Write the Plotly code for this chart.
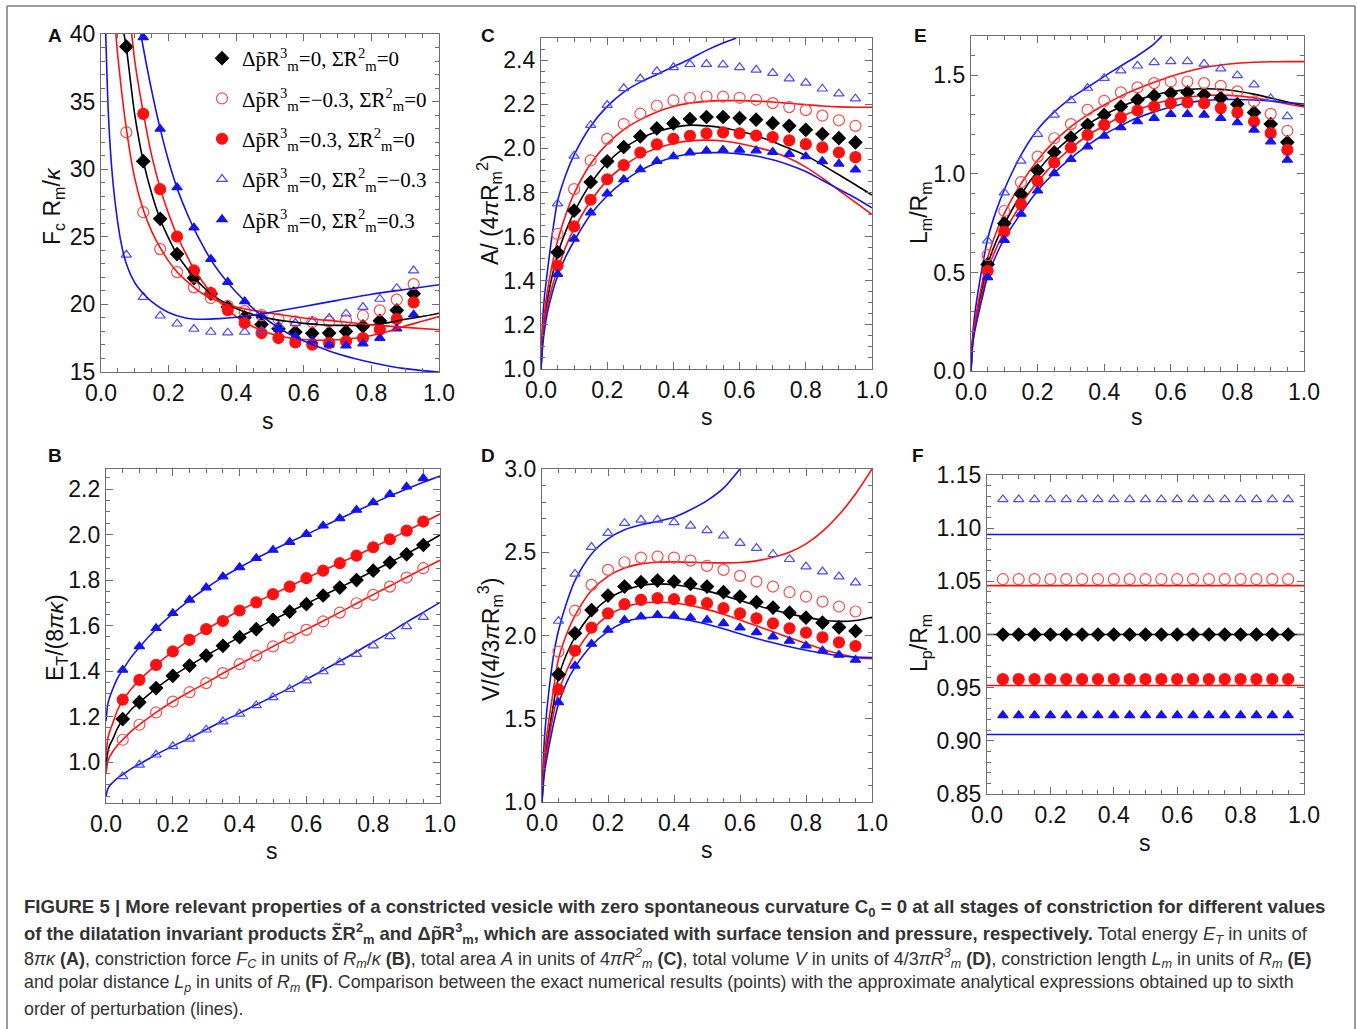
import plotly.graph_objects as go

W, H = 1357, 1029

# ---------------- data ----------------
S_PTS = [0.05, 0.10, 0.15, 0.20, 0.25, 0.30, 0.35, 0.40, 0.45, 0.50,
         0.55, 0.60, 0.65, 0.70, 0.75, 0.80, 0.85, 0.90, 0.95]
A_S_PTS = [0.075, 0.125, 0.175, 0.225, 0.275, 0.325, 0.375, 0.425, 0.475,
           0.525, 0.575, 0.625, 0.675, 0.725, 0.775, 0.825, 0.875, 0.925]
S_GRID = [0, 0.005, 0.01, 0.02, 0.035, 0.05, 0.075, 0.1, 0.15, 0.2, 0.25, 0.3,
          0.35, 0.4, 0.45, 0.5, 0.55, 0.6, 0.65, 0.7, 0.75, 0.8, 0.85, 0.9, 0.95, 1.0]

# Panel A : F_c R_m / kappa
A_BLACK_PTS = [39.06, 30.59, 26.33, 23.72, 21.95, 20.79, 19.8, 19.04, 18.52, 18.2,
               17.96, 17.86, 17.88, 18.0, 18.38, 18.79, 19.56, 20.79]
A_REDO_PTS = [32.73, 26.82, 24.09, 22.39, 21.26, 20.47, 19.9, 19.5, 19.2, 18.92,
              18.74, 18.7, 18.72, 18.82, 19.16, 19.56, 20.35, 21.5]
A_REDF_PTS = [None, 34.09, 28.52, 25.02, 22.51, 20.84, 19.58, 18.62, 17.88, 17.51,
              17.19, 17.02, 17.14, 17.27, 17.51, 18.13, 18.92, 20.15]
A_BLUEO_PTS = [23.67, 20.54, 19.16, 18.57, 18.18, 17.96, 17.91, 17.96, 18.05, 18.45,
               18.62, 18.75, 18.99, 19.31, 19.8, 20.4, 21.2, 22.5]
A_BLUEF_PTS = [None, 39.75, 32.98, 28.65, 25.67, 23.35, 21.65, 20.22, 19.16, 18.2,
               17.64, 17.32, 17.02, 16.95, 17.1, 17.51, 18.2, 19.24]

A_BLACK_LS = [0.068, 0.075, 0.1, 0.125, 0.15, 0.175, 0.2, 0.225, 0.25, 0.275, 0.3, 0.325,
              0.35, 0.4, 0.45, 0.5, 0.55, 0.6, 0.65, 0.7, 0.75, 0.8, 0.85, 0.9, 0.95, 1.0]
A_BLACK_LINE = [40, 39.0, 34.0, 30.6, 28.2, 26.3, 24.9, 23.7, 22.8, 22.0, 21.35, 20.8,
                20.35, 19.7, 19.25, 18.95, 18.75, 18.6, 18.5, 18.45, 18.45, 18.5, 18.65,
                18.9, 19.1, 19.35]
A_REDO_LS = [0.044, 0.05, 0.075, 0.1, 0.125, 0.15, 0.175, 0.2, 0.225, 0.25, 0.3, 0.35,
             0.4, 0.45, 0.5, 0.6, 0.7, 0.8, 0.9, 1.0]
A_REDO_LINE = [40, 38.3, 33.0, 29.3, 27.0, 25.4, 24.2, 23.2, 22.4, 21.8, 20.8, 20.2,
               19.8, 19.55, 19.35, 19.0, 18.75, 18.5, 18.3, 18.13]
A_REDF_LS = [0.091, 0.1, 0.125, 0.15, 0.175, 0.2, 0.225, 0.25, 0.275, 0.3, 0.325, 0.35,
             0.4, 0.45, 0.5, 0.55, 0.6, 0.65, 0.7, 0.75, 0.8, 0.85, 0.9, 0.95, 1.0]
A_REDF_LINE = [40, 38.0, 34.2, 31.0, 28.6, 26.7, 25.1, 23.8, 22.6, 21.7, 20.9, 20.2,
               19.1, 18.35, 17.85, 17.55, 17.4, 17.35, 17.38, 17.5, 17.7, 18.0, 18.4,
               18.75, 19.1]
A_BLUEO_LS = [0.014, 0.022, 0.032, 0.046, 0.06, 0.075, 0.1, 0.125, 0.15, 0.2, 0.25, 0.3,
              0.35, 0.4, 0.45, 0.5, 0.6, 0.7, 0.8, 0.9, 1.0]
A_BLUEO_LINE = [40, 34.0, 30.0, 26.7, 24.5, 23.0, 21.6, 20.8, 20.2, 19.4, 19.0, 18.9,
                18.95, 19.05, 19.2, 19.4, 19.85, 20.3, 20.75, 21.1, 21.45]
A_BLUEF_LS = [0.118, 0.125, 0.15, 0.175, 0.2, 0.225, 0.25, 0.275, 0.3, 0.325, 0.35, 0.4,
              0.45, 0.5, 0.55, 0.6, 0.65, 0.7, 0.75, 0.8, 0.85, 0.9, 0.95, 1.0]
A_BLUEF_LINE = [40, 39.0, 35.8, 33.0, 30.6, 28.6, 27.0, 25.6, 24.4, 23.3, 22.4, 20.9,
                19.7, 18.7, 17.9, 17.3, 16.8, 16.35, 16.0, 15.7, 15.45, 15.25, 15.1, 15.0]

# Panel B : E_T / (8 pi kappa)
B_BLUEF_PTS = [1.405, 1.508, 1.588, 1.654, 1.713, 1.767, 1.815, 1.856, 1.896, 1.932,
               1.967, 2.002, 2.039, 2.071, 2.108, 2.141, 2.177, 2.210, 2.247]
B_REDF_PTS = [1.274, 1.361, 1.427, 1.486, 1.537, 1.584, 1.620, 1.666, 1.702, 1.738,
              1.771, 1.808, 1.841, 1.874, 1.907, 1.944, 1.979, 2.017, 2.057]
B_BLACK_PTS = [1.189, 1.263, 1.325, 1.379, 1.424, 1.468, 1.511, 1.549, 1.584, 1.625,
               1.661, 1.694, 1.732, 1.767, 1.800, 1.841, 1.877, 1.913, 1.954]
B_REDO_PTS = [1.098, 1.164, 1.218, 1.266, 1.307, 1.347, 1.391, 1.430, 1.468, 1.508,
              1.547, 1.581, 1.618, 1.657, 1.698, 1.735, 1.771, 1.811, 1.852]
B_BLUEO_PTS = [0.937, 0.988, 1.032, 1.069, 1.102, 1.142, 1.178, 1.212, 1.249, 1.284,
               1.320, 1.358, 1.398, 1.438, 1.474, 1.512, 1.552, 1.596, 1.637]
B_BLUEF_LINE = [1.18, 1.25, 1.28, 1.32, 1.37, 1.405, 1.46, 1.505, 1.585, 1.652, 1.712,
                1.765, 1.813, 1.855, 1.895, 1.932, 1.967, 2.0, 2.035, 2.07, 2.103, 2.137,
                2.17, 2.2, 2.23, 2.257]
B_REDF_LINE = [1.02, 1.1, 1.13, 1.17, 1.23, 1.27, 1.32, 1.36, 1.427, 1.485, 1.536, 1.583,
               1.625, 1.666, 1.703, 1.738, 1.773, 1.808, 1.842, 1.875, 1.908, 1.943,
               1.979, 2.016, 2.053, 2.09]
B_BLACK_LINE = [0.98, 1.04, 1.07, 1.1, 1.15, 1.185, 1.23, 1.262, 1.324, 1.378, 1.424,
                1.468, 1.509, 1.549, 1.587, 1.625, 1.661, 1.696, 1.732, 1.767, 1.802,
                1.84, 1.877, 1.915, 1.955, 1.998]
B_REDO_LINE = [0.95, 1.0, 1.02, 1.045, 1.075, 1.098, 1.135, 1.164, 1.218, 1.266, 1.308,
               1.348, 1.39, 1.43, 1.469, 1.508, 1.546, 1.583, 1.62, 1.658, 1.697, 1.736,
               1.774, 1.812, 1.85, 1.887]
B_BLUEO_LINE = [0.85, 0.88, 0.895, 0.91, 0.93, 0.945, 0.97, 0.99, 1.033, 1.07, 1.105,
                1.143, 1.18, 1.215, 1.252, 1.288, 1.325, 1.364, 1.403, 1.443, 1.485,
                1.528, 1.57, 1.615, 1.658, 1.702]

# Panel C : A / (4 pi R_m^2)
C_BLUEO_PTS = [1.749, 1.966, 2.105, 2.196, 2.272, 2.316, 2.349, 2.367, 2.381, 2.382,
               2.379, 2.367, 2.356, 2.341, 2.316, 2.297, 2.270, 2.248, 2.225]
C_REDO_PTS = [1.612, 1.815, 1.945, 2.043, 2.110, 2.157, 2.193, 2.217, 2.228, 2.235,
              2.234, 2.229, 2.220, 2.205, 2.187, 2.173, 2.148, 2.127, 2.102]
C_BLACK_PTS = [1.529, 1.718, 1.847, 1.941, 2.006, 2.054, 2.090, 2.113, 2.133, 2.142,
               2.142, 2.137, 2.130, 2.114, 2.102, 2.084, 2.065, 2.046, 2.027]
C_REDF_PTS = [1.469, 1.646, 1.767, 1.860, 1.924, 1.981, 2.018, 2.043, 2.057, 2.068,
              2.072, 2.068, 2.058, 2.051, 2.036, 2.019, 2.004, 1.981, 1.960]
C_BLUEF_PTS = [1.43, 1.590, 1.709, 1.795, 1.859, 1.904, 1.942, 1.963, 1.981, 1.989,
               1.993, 1.993, 1.990, 1.983, 1.974, 1.963, 1.941, 1.930, 1.903]
C_BLUEO_LS = [0, 0.005, 0.01, 0.02, 0.035, 0.05, 0.075, 0.1, 0.15, 0.2, 0.25, 0.3, 0.35,
              0.4, 0.45, 0.5, 0.55, 0.59]
C_BLUEO_LINE = [1.0, 1.22, 1.32, 1.45, 1.62, 1.76, 1.88, 1.97, 2.1, 2.19, 2.255, 2.3,
                2.335, 2.37, 2.405, 2.444, 2.477, 2.5]
C_REDO_LINE = [1.0, 1.17, 1.25, 1.36, 1.48, 1.58, 1.7, 1.795, 1.93, 2.02, 2.085, 2.13,
               2.165, 2.19, 2.205, 2.213, 2.216, 2.216, 2.214, 2.21, 2.204, 2.198, 2.192,
               2.188, 2.186, 2.186]
C_BLACK_LINE = [1.0, 1.15, 1.22, 1.32, 1.43, 1.52, 1.625, 1.71, 1.84, 1.935, 2.0, 2.045,
                2.075, 2.095, 2.105, 2.102, 2.093, 2.077, 2.057, 2.03, 2.0, 1.968, 1.925,
                1.88, 1.835, 1.788]
C_REDF_LINE = [1.0, 1.13, 1.2, 1.29, 1.38, 1.45, 1.555, 1.635, 1.76, 1.855, 1.92, 1.968,
               2.0, 2.022, 2.034, 2.037, 2.033, 2.022, 2.005, 1.985, 1.955, 1.915, 1.865,
               1.81, 1.755, 1.70]
C_BLUEF_LINE = [1.0, 1.1, 1.17, 1.26, 1.35, 1.42, 1.51, 1.58, 1.7, 1.785, 1.85, 1.9,
                1.935, 1.96, 1.975, 1.98, 1.98, 1.975, 1.965, 1.948, 1.925, 1.895, 1.855,
                1.815, 1.775, 1.73]

# Panel D : V / (4/3 pi R_m^3)
D_BLUEO_PTS = [2.087, 2.370, 2.531, 2.615, 2.675, 2.695, 2.695, 2.679, 2.659, 2.631,
               2.599, 2.555, 2.525, 2.488, 2.458, 2.414, 2.384, 2.354, 2.318]
D_REDO_PTS = [1.903, 2.149, 2.304, 2.394, 2.440, 2.468, 2.474, 2.468, 2.450, 2.418,
              2.394, 2.358, 2.324, 2.294, 2.260, 2.234, 2.204, 2.174, 2.144]
D_BLACK_PTS = [1.766, 2.013, 2.153, 2.240, 2.294, 2.320, 2.330, 2.324, 2.310, 2.294,
               2.260, 2.234, 2.200, 2.168, 2.137, 2.107, 2.077, 2.049, 2.027]
D_REDF_PTS = [1.676, 1.909, 2.047, 2.133, 2.188, 2.214, 2.224, 2.218, 2.210, 2.194,
              2.164, 2.133, 2.103, 2.073, 2.043, 2.017, 1.989, 1.959, 1.937]
D_BLUEF_PTS = [1.598, 1.818, 1.949, 2.033, 2.093, 2.113, 2.123, 2.119, 2.107, 2.093,
               2.073, 2.047, 2.019, 1.993, 1.967, 1.939, 1.909, 1.883, 1.853]
D_BLUEO_LS = [0, 0.005, 0.01, 0.02, 0.035, 0.05, 0.075, 0.1, 0.15, 0.2, 0.25, 0.3, 0.35,
              0.4, 0.45, 0.5, 0.55, 0.6]
D_BLUEO_LINE = [1.0, 1.3, 1.45, 1.65, 1.88, 2.03, 2.2, 2.33, 2.49, 2.58, 2.635, 2.665,
                2.685, 2.71, 2.755, 2.81, 2.885, 3.0]
D_REDO_LINE = [1.0, 1.22, 1.33, 1.48, 1.68, 1.86, 2.01, 2.12, 2.27, 2.355, 2.405, 2.43,
               2.44, 2.442, 2.44, 2.437, 2.436, 2.438, 2.448, 2.47, 2.5, 2.55, 2.625,
               2.725, 2.85, 3.0]
D_BLACK_LINE = [1.0, 1.18, 1.27, 1.41, 1.59, 1.75, 1.89, 1.99, 2.13, 2.22, 2.27, 2.3,
                2.31, 2.305, 2.29, 2.268, 2.24, 2.21, 2.18, 2.155, 2.13, 2.11, 2.093,
                2.085, 2.09, 2.11]
D_REDF_LINE = [1.0, 1.15, 1.24, 1.37, 1.53, 1.66, 1.79, 1.89, 2.03, 2.12, 2.17, 2.195,
               2.2, 2.195, 2.18, 2.157, 2.127, 2.093, 2.058, 2.022, 1.987, 1.952, 1.918,
               1.89, 1.868, 1.86]
D_BLUEF_LINE = [1.0, 1.13, 1.21, 1.32, 1.47, 1.59, 1.72, 1.81, 1.94, 2.025, 2.08, 2.105,
                2.11, 2.105, 2.09, 2.067, 2.04, 2.01, 1.982, 1.956, 1.932, 1.911, 1.893,
                1.878, 1.87, 1.868]

# Panel E : L_m / R_m
E_BLUEO_PTS = [0.661, 0.905, 1.066, 1.202, 1.300, 1.373, 1.436, 1.486, 1.524, 1.549,
               1.566, 1.571, 1.571, 1.559, 1.534, 1.500, 1.453, 1.383, 1.292]
E_REDO_PTS = [0.588, 0.812, 0.958, 1.088, 1.181, 1.253, 1.325, 1.371, 1.414, 1.439,
              1.461, 1.469, 1.469, 1.461, 1.447, 1.419, 1.368, 1.305, 1.219]
E_BLACK_PTS = [0.541, 0.749, 0.898, 1.017, 1.110, 1.185, 1.249, 1.300, 1.342, 1.376,
               1.397, 1.410, 1.414, 1.402, 1.385, 1.354, 1.312, 1.253, 1.161]
E_REDF_PTS = [0.508, 0.707, 0.847, 0.964, 1.058, 1.134, 1.198, 1.249, 1.286, 1.322,
              1.342, 1.359, 1.363, 1.359, 1.334, 1.312, 1.266, 1.207, 1.122]
E_BLUEF_PTS = [0.475, 0.664, 0.797, 0.915, 1.003, 1.075, 1.139, 1.193, 1.236, 1.266,
               1.283, 1.303, 1.303, 1.300, 1.283, 1.261, 1.224, 1.164, 1.071]
E_BLUEO_LS = [0, 0.005, 0.01, 0.02, 0.035, 0.05, 0.075, 0.1, 0.15, 0.2, 0.25, 0.3, 0.35,
              0.4, 0.45, 0.5, 0.55, 0.573]
E_BLUEO_LINE = [0, 0.18, 0.27, 0.39, 0.54, 0.67, 0.81, 0.92, 1.095, 1.225, 1.315, 1.385,
                1.44, 1.495, 1.548, 1.6, 1.66, 1.7]
E_REDO_LINE = [0, 0.16, 0.23, 0.33, 0.46, 0.575, 0.7, 0.8, 0.95, 1.07, 1.165, 1.24, 1.3,
               1.35, 1.395, 1.432, 1.465, 1.495, 1.52, 1.54, 1.553, 1.562, 1.567, 1.569,
               1.57, 1.57]
E_BLACK_LINE = [0, 0.15, 0.215, 0.31, 0.43, 0.54, 0.655, 0.745, 0.895, 1.015, 1.11,
                1.185, 1.25, 1.3, 1.34, 1.375, 1.4, 1.418, 1.428, 1.432, 1.43, 1.42,
                1.405, 1.385, 1.365, 1.345]
E_REDF_LINE = [0, 0.14, 0.2, 0.29, 0.4, 0.51, 0.62, 0.705, 0.845, 0.96, 1.055, 1.13,
               1.195, 1.245, 1.29, 1.325, 1.355, 1.375, 1.39, 1.398, 1.4, 1.396, 1.386,
               1.372, 1.355, 1.34]
E_BLUEF_LINE = [0, 0.13, 0.19, 0.27, 0.38, 0.48, 0.585, 0.67, 0.8, 0.915, 1.005, 1.08,
                1.145, 1.2, 1.245, 1.285, 1.315, 1.34, 1.36, 1.372, 1.378, 1.378, 1.375,
                1.37, 1.362, 1.355]

# Panel F : L_p / R_m (constant in s)
F_LINE_S = [0.0, 1.0]
F_BLUEO_VAL, F_REDO_VAL, F_BLACK_VAL, F_REDF_VAL, F_BLUEF_VAL = 1.127, 1.052, 1.000, 0.958, 0.924
F_BLUEO_LVAL, F_REDO_LVAL, F_BLACK_LVAL, F_REDF_LVAL, F_BLUEF_LVAL = 1.094, 1.046, 1.000, 0.952, 0.906

LEGEND_LABELS = [
    "Δp\u0303R<sup>3</sup><sub>m</sub>=0, Σ\u0303R<sup>2</sup><sub>m</sub>=0",
    "Δp\u0303R<sup>3</sup><sub>m</sub>=\u22120.3, Σ\u0303R<sup>2</sup><sub>m</sub>=0",
    "Δp\u0303R<sup>3</sup><sub>m</sub>=0.3, Σ\u0303R<sup>2</sup><sub>m</sub>=0",
    "Δp\u0303R<sup>3</sup><sub>m</sub>=0, Σ\u0303R<sup>2</sup><sub>m</sub>=\u22120.3",
    "Δp\u0303R<sup>3</sup><sub>m</sub>=0, Σ\u0303R<sup>2</sup><sub>m</sub>=0.3",
]

# ---------------- styles ----------------
BLACK = "#000000"
RED = "#ff1010"
RED_O = "#ff4a4a"
BLUE = "#1414f0"
BLUE_O = "#4a4aff"
LW = 1.6

STY = {
    "black": dict(color=BLACK, symbol="diamond", size=10, lc=BLACK),
    "redo": dict(color=RED_O, symbol="circle-open", size=11, lc=RED),
    "redf": dict(color=RED, symbol="circle", size=11, lc=RED),
    "blueo": dict(color=BLUE_O, symbol="triangle-up-open", size=9, lc=BLUE),
    "bluef": dict(color=BLUE, symbol="triangle-up", size=9, lc=BLUE),
}
ORDER = ["black", "redo", "redf", "blueo", "bluef"]

fig = go.Figure()


def add_line(ax, s, v, key):
    fig.add_trace(go.Scatter(x=s, y=v, mode="lines", xaxis="x" + ax, yaxis="y" + ax,
                             line=dict(color=STY[key]["lc"], width=LW, shape="spline",
                                       smoothing=0.8),
                             showlegend=False, hoverinfo="skip"))


def add_pts(ax, s, v, key, legend_name=None):
    st = STY[key]
    fig.add_trace(go.Scatter(x=s, y=v, mode="markers", xaxis="x" + ax, yaxis="y" + ax,
                             marker=dict(color=st["color"], symbol=st["symbol"], size=st["size"],
                                         line=dict(color=st["color"], width=1.2)),
                             name=legend_name if legend_name else key,
                             showlegend=legend_name is not None,
                             legendgroup="g_" + key, cliponaxis=True))


# Panel A (axis 1): legend traces first so the legend order is fixed
for key, pts, lab in zip(ORDER, [A_BLACK_PTS, A_REDO_PTS, A_REDF_PTS, A_BLUEO_PTS, A_BLUEF_PTS],
                         LEGEND_LABELS):
    add_pts("1", A_S_PTS, pts, key, lab)
add_line("1", A_BLACK_LS, A_BLACK_LINE, "black")
add_line("1", A_REDO_LS, A_REDO_LINE, "redo")
add_line("1", A_REDF_LS, A_REDF_LINE, "redf")
add_line("1", A_BLUEO_LS, A_BLUEO_LINE, "blueo")
add_line("1", A_BLUEF_LS, A_BLUEF_LINE, "bluef")

# Panel B (axis 2)
for key, ln, pts in zip(ORDER, [B_BLACK_LINE, B_REDO_LINE, B_REDF_LINE, B_BLUEO_LINE, B_BLUEF_LINE],
                        [B_BLACK_PTS, B_REDO_PTS, B_REDF_PTS, B_BLUEO_PTS, B_BLUEF_PTS]):
    add_line("2", S_GRID, ln, key)
    add_pts("2", S_PTS, pts, key)

# Panel C (axis 3)
add_line("3", C_BLUEO_LS, C_BLUEO_LINE, "blueo")
for key, ln in zip(["black", "redo", "redf", "bluef"],
                   [C_BLACK_LINE, C_REDO_LINE, C_REDF_LINE, C_BLUEF_LINE]):
    add_line("3", S_GRID, ln, key)
for key, pts in zip(ORDER, [C_BLACK_PTS, C_REDO_PTS, C_REDF_PTS, C_BLUEO_PTS, C_BLUEF_PTS]):
    add_pts("3", S_PTS, pts, key)

# Panel D (axis 4)
add_line("4", D_BLUEO_LS, D_BLUEO_LINE, "blueo")
for key, ln in zip(["black", "redo", "redf", "bluef"],
                   [D_BLACK_LINE, D_REDO_LINE, D_REDF_LINE, D_BLUEF_LINE]):
    add_line("4", S_GRID, ln, key)
for key, pts in zip(ORDER, [D_BLACK_PTS, D_REDO_PTS, D_REDF_PTS, D_BLUEO_PTS, D_BLUEF_PTS]):
    add_pts("4", S_PTS, pts, key)

# Panel E (axis 5)
add_line("5", E_BLUEO_LS, E_BLUEO_LINE, "blueo")
for key, ln in zip(["black", "redo", "redf", "bluef"],
                   [E_BLACK_LINE, E_REDO_LINE, E_REDF_LINE, E_BLUEF_LINE]):
    add_line("5", S_GRID, ln, key)
for key, pts in zip(ORDER, [E_BLACK_PTS, E_REDO_PTS, E_REDF_PTS, E_BLUEO_PTS, E_BLUEF_PTS]):
    add_pts("5", S_PTS, pts, key)

# Panel F (axis 6)
for key, lv, pv in zip(ORDER,
                       [F_BLACK_LVAL, F_REDO_LVAL, F_REDF_LVAL, F_BLUEO_LVAL, F_BLUEF_LVAL],
                       [F_BLACK_VAL, F_REDO_VAL, F_REDF_VAL, F_BLUEO_VAL, F_BLUEF_VAL]):
    add_line("6", F_LINE_S, [lv] * len(F_LINE_S), key)
    add_pts("6", S_PTS, [pv] * len(S_PTS), key)

# ---------------- layout ----------------
FRAME = "#6e6e6e"
TICKFONT = dict(family="Liberation Sans, Arial, sans-serif", size=23, color="#111")


def px_dom_x(a, b):
    return [a / W, b / W]


def px_dom_y(top, bottom):
    return [1 - bottom / H, 1 - top / H]


PANELS = {
    # axis: (x0, x1, ytop, ybottom, yrange, ydtick, yminor, yfmt)
    "1": (101, 439, 34, 372, [15, 40], 5, 1, "d"),
    "2": (106, 440, 469, 803, [0.82, 2.288], 0.2, 0.05, ".1f"),
    "3": (541, 872, 38, 369, [1.0, 2.5], 0.2, 0.05, ".1f"),
    "4": (542, 872, 469, 802, [1.0, 3.0], 0.5, 0.1, ".1f"),
    "5": (971, 1304, 36, 371, [0.0, 1.7], 0.5, 0.1, ".1f"),
    "6": (987, 1304, 475, 794, [0.85, 1.15], 0.05, 0.01, ".2f"),
}

layout = dict(width=W, height=H, margin=dict(l=0, r=0, t=0, b=0), autosize=False,
              paper_bgcolor="white", plot_bgcolor="white", showlegend=True,
              legend=dict(x=202 / W, y=1 - 38 / H, xanchor="left", yanchor="top",
                          bgcolor="rgba(0,0,0,0)",
                          font=dict(family="Liberation Serif, Times New Roman, serif",
                                    size=21, color="#000"),
                          itemwidth=30, tracegroupgap=10, traceorder="grouped"))

for ax, (x0, x1, yt, yb, yr, dt, mn, fmt) in PANELS.items():
    kx = "xaxis" if ax == "1" else "xaxis" + ax
    ky = "yaxis" if ax == "1" else "yaxis" + ax
    common = dict(showline=True, linecolor=FRAME, linewidth=1.2, mirror="allticks",
                  ticks="inside", ticklen=7, tickwidth=1, tickcolor=FRAME,
                  showgrid=False, zeroline=False, tickfont=TICKFONT, automargin=False,
                  fixedrange=True)
    layout[kx] = dict(domain=px_dom_x(x0, x1), range=[0, 1], anchor="y" + ax,
                      dtick=0.2, tick0=0, tickformat=".1f",
                      minor=dict(dtick=0.05, ticks="inside", ticklen=4, tickcolor=FRAME),
                      **common)
    layout[ky] = dict(domain=px_dom_y(yt, yb), range=yr, anchor="x" + ax,
                      dtick=dt, tick0=0, tickformat=fmt,
                      minor=dict(dtick=mn, ticks="inside", ticklen=4, tickcolor=FRAME),
                      **common)

fig.update_layout(**layout)

AXFONT = dict(family="Liberation Sans, Arial, sans-serif", size=23, color="#111")
LETFONT = dict(family="Liberation Sans, Arial, sans-serif", size=19, color="#111")

ann = []
# panel letters
for txt, x, y in [("A", 55, 35), ("C", 488, 35), ("E", 920, 35),
                  ("B", 55, 455), ("D", 488, 455), ("F", 918, 455)]:
    ann.append(dict(text="<b>%s</b>" % txt, x=x / W, y=1 - y / H, xref="paper", yref="paper",
                    showarrow=False, xanchor="center", yanchor="middle", font=LETFONT))
# x titles
for x, y in [(268, 421), (707, 417), (1137, 417), (272, 851), (707, 850), (1145, 843)]:
    ann.append(dict(text="s", x=x / W, y=1 - y / H, xref="paper", yref="paper",
                    showarrow=False, xanchor="center", yanchor="middle", font=AXFONT))
# y titles
YT = [("F<sub>c</sub> R<sub>m</sub>/<i>κ</i>", 54, 206),
      ("E<sub>T</sub>/(8<i>πκ</i>)", 56, 638),
      ("A/ (4<i>π</i>R<sub>m</sub><sup>2</sup>)", 489, 210),
      ("V/(4/3<i>π</i>R<sub>m</sub><sup>3</sup>)", 490, 640),
      ("L<sub>m</sub>/R<sub>m</sub>", 920, 213),
      ("L<sub>p</sub>/R<sub>m</sub>", 920, 643)]
for txt, x, y in YT:
    ann.append(dict(text=txt, x=x / W, y=1 - y / H, xref="paper", yref="paper",
                    showarrow=False, xanchor="center", yanchor="middle", textangle=-90,
                    font=AXFONT))

CAPTION = [
    "<b>FIGURE 5 | More relevant properties of a constricted vesicle with zero spontaneous curvature C<sub>0</sub> = 0 at all stages of constriction for different values</b>",
    "<b>of the dilatation invariant products Σ\u0303R<sup>2</sup><sub>m</sub> and Δp\u0303R<sup>3</sup><sub>m</sub>, which are associated with surface tension and pressure, respectively.</b> Total energy <i>E<sub>T</sub></i> in units of",
    "8<i>πκ</i> <b>(A)</b>, constriction force <i>F<sub>C</sub></i> in units of <i>R<sub>m</sub></i>/<i>κ</i> <b>(B)</b>, total area <i>A</i> in units of 4<i>πR<sup>2</sup><sub>m</sub></i> <b>(C)</b>, total volume <i>V</i> in units of 4/3<i>πR<sup>3</sup><sub>m</sub></i> <b>(D)</b>, constriction length <i>L<sub>m</sub></i> in units of <i>R<sub>m</sub></i> <b>(E)</b>",
    "and polar distance <i>L<sub>p</sub></i> in units of <i>R<sub>m</sub></i> <b>(F)</b>. Comparison between the exact numerical results (points) with the approximate analytical expressions obtained up to sixth",
    "order of perturbation (lines).",
]
CAP_SIZES = [18.6, 18.4, 18.0, 17.8, 17.8]
for i, (line, sz) in enumerate(zip(CAPTION, CAP_SIZES)):
    ann.append(dict(text=line, x=22 / W, y=1 - (908 + 25.2 * i) / H, xref="paper", yref="paper",
                    showarrow=False, xanchor="left", yanchor="middle", align="left",
                    font=dict(family="Liberation Sans, Arial, sans-serif", size=sz,
                              color="#333")))

fig.update_layout(annotations=ann)

# outer frame of the figure
BORDER = "#7a7a7a"
fig.update_layout(shapes=[
    dict(type="line", xref="paper", yref="paper", x0=7 / W, x1=1355 / W, y0=1 - 6 / H, y1=1 - 6 / H,
         line=dict(color=BORDER, width=1.5)),
    dict(type="line", xref="paper", yref="paper", x0=7 / W, x1=7 / W, y0=0, y1=1 - 6 / H,
         line=dict(color=BORDER, width=1.5)),
    dict(type="line", xref="paper", yref="paper", x0=1355 / W, x1=1355 / W, y0=0, y1=1 - 6 / H,
         line=dict(color=BORDER, width=1.5)),
])

fig.write_html("out.html")
